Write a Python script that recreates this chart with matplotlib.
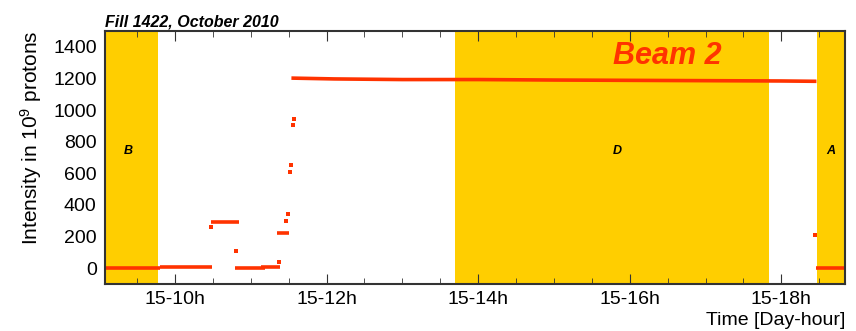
import numpy as np
import matplotlib
matplotlib.use('Agg')
import matplotlib.pyplot as plt

plt.rcParams['font.family'] = ['Liberation Sans', 'DejaVu Sans']
plt.rcParams['mathtext.default'] = 'regular'

# flat segments of the beam 2 intensity (hour of day 15, 1e9 protons)
seg_start = [9.05, 9.80, 10.47, 10.79, 11.14, 11.35, 18.46]
seg_end = [9.80, 10.49, 10.84, 11.19, 11.39, 11.50, 18.90]
seg_val = [0, 10, 290, 0, 10, 220, 0]

# isolated samples
pt_t = [10.47, 10.81, 11.37, 11.46, 11.49, 11.52, 11.53, 11.56, 11.57, 18.44]
pt_val = [260, 107, 38, 300, 340, 607, 650, 908, 946, 210]

# stable beam plateau
plat_t = [11.56, 12.1, 13.0, 14.0, 15.0, 16.0, 17.0, 18.0, 18.44]
plat_val = [1202, 1197, 1193, 1193, 1190, 1188, 1186, 1184, 1182]

# shaded periods and their labels
band_start = [9.0, 13.69, 18.47]
band_end = [9.77, 17.84, 19.0]
band_label = ['B', 'D', 'A']
label_t = [9.38, 15.83, 18.65]

xticks = [10, 12, 14, 16, 18]
xticklabels = ['15-%dh' % h for h in xticks]

red = '#ff3300'
yellow = '#ffce00'

fig = plt.figure(figsize=(8.56, 3.31), dpi=100)
ax = fig.add_axes([0.1227, 0.142, 0.8644, 0.7643])

for s, e in zip(band_start, band_end):
    ax.axvspan(s, e, color=yellow, lw=0, zorder=0)
for t, lab in zip(label_t, band_label):
    ax.text(t, 744, lab, ha='center', va='center', fontsize=9,
            fontweight='bold', style='italic')

ax.hlines(seg_val, seg_start, seg_end, color=red, lw=2.6, zorder=3)
ax.plot(plat_t, plat_val, color=red, lw=2.6, zorder=3)
ax.plot(pt_t, pt_val, 's', color=red, ms=3.2, mew=0, zorder=3)

ax.text(16.49, 1343, 'Beam 2', color=red, fontsize=22, fontweight='bold',
        style='italic', ha='center', va='center')

ax.set_xlim(9.077, 18.84)
ax.set_ylim(-100, 1500)
ax.set_yticks(np.arange(0, 1401, 200))
ax.set_xticks(xticks)
ax.set_xticklabels(xticklabels)
ax.set_xticks(np.arange(9.5, 18.8, 0.5), minor=True)
ax.tick_params(axis='x', which='both', direction='in', top=True,
               labelsize=14, pad=5, color='#333333')
ax.tick_params(axis='x', which='major', length=7)
ax.tick_params(axis='x', which='minor', length=4)
ax.tick_params(axis='y', length=0, labelsize=14, pad=6)
for sp in ax.spines.values():
    sp.set_color('#333333')
    sp.set_linewidth(1.5)
    sp.set_zorder(5)

ax.set_ylabel('Intensity in 10$^9$ protons', fontsize=15)
ax.yaxis.set_label_coords(-0.083, 0.577)
fig.text(0.9871, 0.006, 'Time [Day-hour]', ha='right', va='bottom',
         fontsize=14)
ax.set_title('Fill 1422, October 2010', loc='left', fontsize=11.5,
             fontweight='bold', style='italic', pad=3)

fig.savefig('out.png', dpi=100)
plt.close()
